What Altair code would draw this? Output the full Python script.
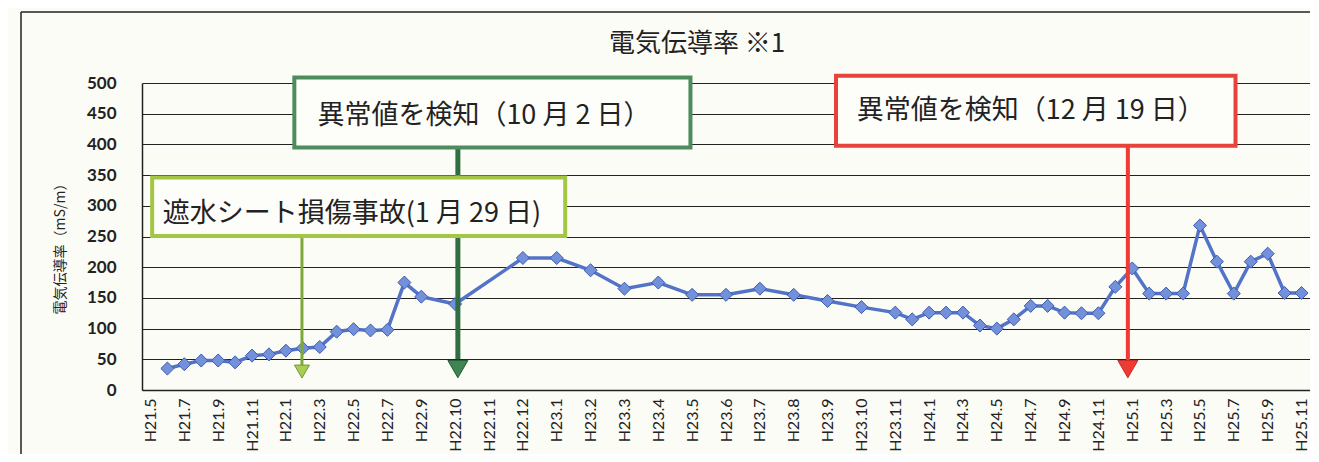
import json
import altair as alt
import pandas as pd

# x-axis tick labels (every second category slot)
tick_labels = ["H21.5", "H21.7", "H21.9", "H21.11", "H22.1", "H22.3", "H22.5", "H22.7",
               "H22.9", "H22.10", "H22.11", "H22.12", "H23.1", "H23.2", "H23.3", "H23.4",
               "H23.5", "H23.6", "H23.7", "H23.8", "H23.9", "H23.10", "H23.11", "H24.1",
               "H24.3", "H24.5", "H24.7", "H24.9", "H24.11", "H25.1", "H25.3", "H25.5",
               "H25.7", "H25.9", "H25.11"]

# category slot of each measurement and its value (mS/m)
slots = [1, 2, 3, 4, 5, 6, 7, 8, 9, 10, 11, 12, 13, 14, 15, 16, 18, 22, 24, 26, 28, 30,
         32, 34, 36, 38, 40, 42, 44, 45, 46, 47, 48, 49, 50, 51, 52, 53, 54, 55, 56, 57,
         58, 59, 60, 61, 62, 63, 64, 65, 66, 67, 68]
values = [35, 42, 48, 48, 45, 56, 58, 64, 68, 70, 95, 99, 97, 98, 175, 152, 140, 215,
          215, 195, 165, 175, 155, 155, 165, 155, 145, 135, 126, 115, 126, 126, 126, 105,
          100, 115, 137, 137, 126, 125, 125, 168, 198, 157, 157, 157, 268, 209, 157, 209,
          222, 158, 158]

# callouts (in data units: slot / value)
box_texts = ["遮水シート損傷事故(1 月 29 日)", "異常値を検知（10 月 2 日）", "異常値を検知（12 月 19 日）"]
box_left = [0.1, 8.5, 40.5]
box_right = [24.5, 31.9, 64.1]
box_top = [346, 509, 512]
box_bottom = [251, 395, 398]
text_slot = [11.9, 19.7, 52.0]
text_value = [287, 447, 454]
arrow_slot = [8.95, 18.16, 57.74]
arrow_start = [251, 395, 398]
arrow_end = [38, 50, 48]
arrow_head = [30, 34, 34]

FONT_JP = "Noto Sans CJK JP"
xscale = alt.Scale(domain=[-0.5, 68.5], nice=False, zero=False)
yscale = alt.Scale(domain=[0, 500], nice=False)

df = pd.DataFrame({"slot": slots, "value": values})
one = pd.DataFrame({"a": [0]})

label_expr = json.dumps(tick_labels) + "[round(datum.value / 2)]"

xaxis = alt.Axis(values=list(range(0, 69, 2)), labelExpr=label_expr, labelAngle=270,
                 labelFont="Lato", labelFontSize=16, labelColor="#222", labelPadding=8,
                 ticks=False, grid=False, domainColor="#222", domainWidth=1.5,
                 title=None, labelOverlap=False)
yaxis = alt.Axis(values=list(range(0, 501, 50)), labelFont="Lato", labelFontSize=17,
                 labelFontWeight="bold", labelColor="#222", labelPadding=26, ticks=False,
                 grid=True, gridColor="#222", gridWidth=1.2, domainColor="#222",
                 domainWidth=1.5, title="電気伝導率（mS/m）", titleFont=FONT_JP,
                 titleFontSize=14, titleFontWeight="normal", titleColor="#222",
                 titleX=-82, titleY=162, titleAngle=270, titleAlign="center",
                 titleBaseline="middle")


def X(field):
    return alt.X(field, scale=xscale, axis=xaxis)


def Y(field):
    return alt.Y(field, scale=yscale, axis=yaxis)


base = alt.Chart(df).encode(x=X("slot:Q"), y=Y("value:Q"))
line = base.mark_line(color="#5373c9", strokeWidth=3.5)
points = base.mark_point(shape="diamond", size=170, filled=True, fill="#7390db",
                         stroke="#3d5cae", strokeWidth=1, opacity=1)

frame_top = alt.Chart(one).mark_rule(color="#222", strokeWidth=1.5).encode(
    x=alt.value(-121), x2=alt.value(1400), y=alt.value(-71))
frame_left = alt.Chart(one).mark_rule(color="#222", strokeWidth=1.5).encode(
    x=alt.value(-121), y=alt.value(-71), y2=alt.value(500))

title = alt.Chart(one).mark_text(text="電気伝導率 ※1", font=FONT_JP, fontSize=26,
                                 color="#222", align="center", baseline="middle").encode(
    x=alt.value(555), y=alt.value(-39))

styles = [
    dict(box="#a4c645", shaft="#7ea83a", width=3, head="#a8cc55", headstroke="#6f9a30", size=225),
    dict(box="#4f8c5d", shaft="#2e6e40", width=5, head="#3f8452", headstroke="#245a33", size=400),
    dict(box="#e8433b", shaft="#ef3b33", width=4, head="#ef3b33", headstroke="#c52a24", size=400),
]

shafts, boxes, heads = [], [], []
for i, st in enumerate(styles):
    a = pd.DataFrame({"slot": [arrow_slot[i]], "value": [arrow_start[i]],
                      "value2": [arrow_end[i]], "vh": [arrow_head[i]]})
    shafts.append(alt.Chart(a).mark_rule(color=st["shaft"], strokeWidth=st["width"]).encode(
        x=X("slot:Q"), y=Y("value:Q"), y2="value2:Q"))
    heads.append(alt.Chart(a).mark_point(shape="triangle-down", size=st["size"], filled=True,
                                         fill=st["head"], stroke=st["headstroke"],
                                         strokeWidth=1, opacity=1).encode(
        x=X("slot:Q"), y=Y("vh:Q")))
    b = pd.DataFrame({"slot": [box_left[i]], "slot2": [box_right[i]], "value": [box_top[i]],
                      "value2": [box_bottom[i]], "tx": [text_slot[i]], "ty": [text_value[i]],
                      "label": [box_texts[i]]})
    boxes.append(alt.Chart(b).mark_rect(fill="#fdfdfa", stroke=st["box"], strokeWidth=4).encode(
        x=X("slot:Q"), x2="slot2:Q", y=Y("value:Q"), y2="value2:Q"))
    boxes.append(alt.Chart(b).mark_text(font=FONT_JP, fontSize=27, color="#222",
                                        align="center", baseline="middle").encode(
        x=X("tx:Q"), y=Y("ty:Q"), text="label:N"))

chart = alt.layer(line, points, *shafts, *boxes, *heads, frame_top, frame_left, title).properties(
    width=1168, height=307,
    padding={"left": 134, "top": 75, "right": 0, "bottom": 64},
    autosize=alt.AutoSizeParams(type="none"),
    background="#fcfcf7",
).configure_view(stroke=None)

chart.save("out.html", embed_options={"renderer": "svg", "actions": False})
